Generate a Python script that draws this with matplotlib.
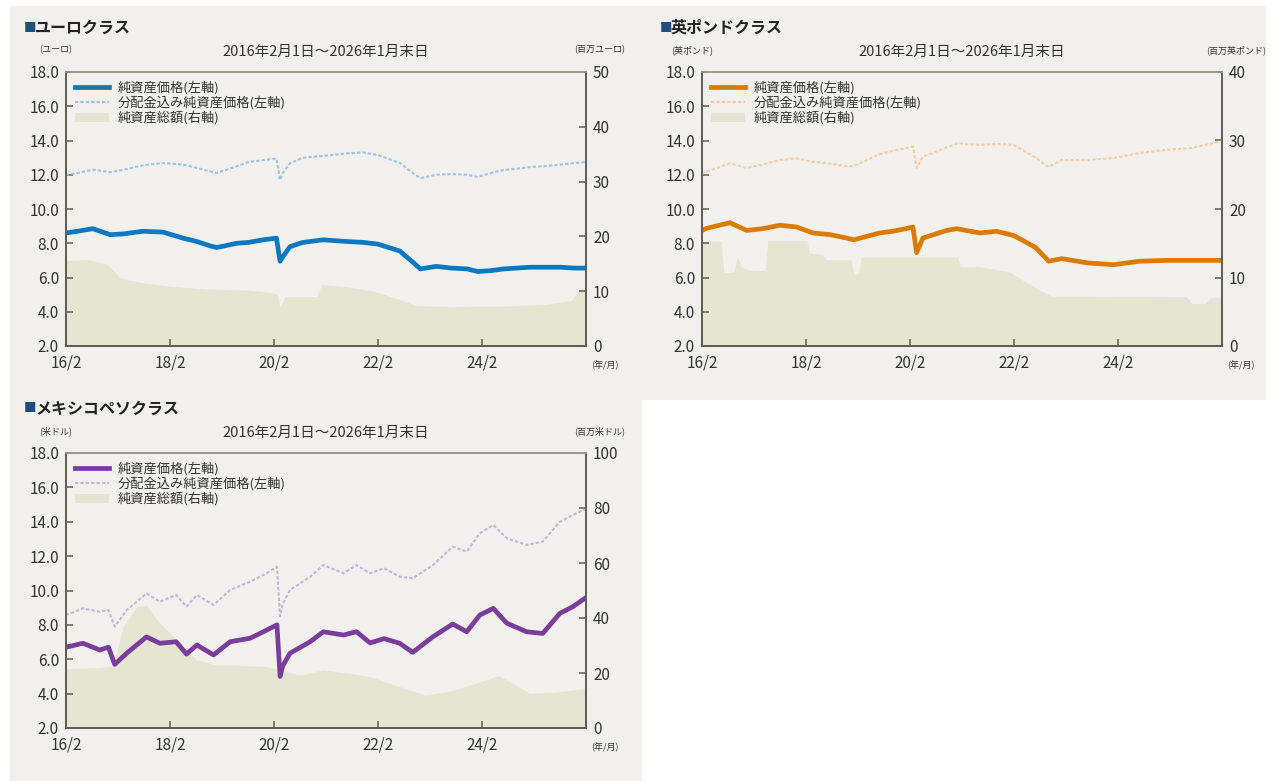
import matplotlib
matplotlib.use("Agg")
import matplotlib.pyplot as plt
from matplotlib.patches import Patch, Polygon
from matplotlib.lines import Line2D

plt.rcParams['font.family'] = ['Noto Sans CJK JP', 'DejaVu Sans']

W, H = 1276, 781

# ---------------- data ----------------
x_ticks = [2016.083, 2018.083, 2020.083, 2022.083, 2024.083]
x_labels = ["16/2", "18/2", "20/2", "22/2", "24/2"]
left_ticks = [2.0, 4.0, 6.0, 8.0, 10.0, 12.0, 14.0, 16.0, 18.0]
left_labels = ["2.0", "4.0", "6.0", "8.0", "10.0", "12.0", "14.0", "16.0", "18.0"]
period_text = "2016年2月1日～2026年1月末日"
legend_labels = ["純資産価格(左軸)", "分配金込み純資産価格(左軸)", "純資産総額(右軸)"]

# Euro class
eur_t = [2016.08, 2016.3, 2016.6, 2016.93, 2017.2, 2017.56, 2017.95, 2018.33, 2018.6,
         2018.85, 2018.98, 2019.37, 2019.6, 2019.87, 2020.13, 2020.2, 2020.25, 2020.39,
         2020.64, 2021.03, 2021.49, 2021.8, 2022.08, 2022.5, 2022.75, 2022.9, 2023.2,
         2023.5, 2023.8, 2024.0, 2024.25, 2024.5, 2024.75, 2025.0, 2025.3, 2025.6, 2025.85, 2026.08]
eur_nav = [8.6, 8.7, 8.85, 8.5, 8.55, 8.7, 8.65, 8.3, 8.1,
           7.85, 7.75, 8.0, 8.05, 8.2, 8.3, 6.95, 7.2, 7.8,
           8.05, 8.2, 8.1, 8.05, 7.95, 7.55, 6.9, 6.5, 6.65,
           6.55, 6.5, 6.35, 6.4, 6.5, 6.55, 6.6, 6.6, 6.6, 6.55, 6.55]
eur_dist = [11.98, 12.1, 12.3, 12.15, 12.3, 12.55, 12.68, 12.6, 12.4,
            12.2, 12.1, 12.5, 12.75, 12.85, 12.95, 11.7, 12.1, 12.67,
            13.0, 13.1, 13.25, 13.3, 13.15, 12.7, 12.1, 11.8, 12.0,
            12.04, 12.0, 11.87, 12.1, 12.28, 12.35, 12.45, 12.5, 12.6, 12.68, 12.75]
eur_aum_t = [2016.08, 2016.5, 2016.85, 2016.95, 2017.1, 2017.3, 2017.6, 2018.2, 2018.8,
             2019.6, 2020.0, 2020.15, 2020.2, 2020.3, 2020.9, 2021.0, 2021.5, 2022.0,
             2022.5, 2022.8, 2023.5, 2024.5, 2025.3, 2025.8, 2025.95, 2026.08]
eur_aum = [15.6, 15.8, 15.0, 14.2, 12.6, 12.0, 11.5, 10.8, 10.4,
           10.2, 9.8, 9.5, 7.0, 9.0, 9.0, 11.2, 10.8, 10.0,
           8.5, 7.4, 7.2, 7.3, 7.6, 8.3, 10.3, 10.6]

# GBP class
gbp_t = [2016.08, 2016.17, 2016.62, 2016.94, 2017.25, 2017.58, 2017.9, 2018.22, 2018.55,
         2018.87, 2019.0, 2019.5, 2019.75, 2020.0, 2020.14, 2020.21, 2020.33, 2020.79,
         2020.98, 2021.43, 2021.75, 2022.08, 2022.5, 2022.75, 2023.0, 2023.5, 2024.0,
         2024.5, 2025.0, 2025.5, 2026.08]
gbp_nav = [8.75, 8.87, 9.2, 8.75, 8.85, 9.05, 8.95, 8.6, 8.5,
           8.3, 8.2, 8.6, 8.7, 8.85, 8.95, 7.45, 8.3, 8.75,
           8.85, 8.6, 8.7, 8.45, 7.75, 6.95, 7.1, 6.85, 6.75,
           6.95, 7.0, 7.0, 7.0]
gbp_dist = [12.05, 12.18, 12.67, 12.4, 12.6, 12.86, 12.96, 12.76, 12.65,
            12.5, 12.5, 13.2, 13.4, 13.55, 13.64, 12.4, 13.05, 13.6,
            13.83, 13.74, 13.8, 13.74, 13.0, 12.45, 12.86, 12.86, 12.98,
            13.27, 13.45, 13.56, 13.97]
gbp_aum_t = [2016.08, 2016.45, 2016.5, 2016.7, 2016.76, 2016.85, 2017.0, 2017.3, 2017.35,
             2018.1, 2018.15, 2018.4, 2018.45, 2018.95, 2019.0, 2019.1, 2019.15, 2020.0,
             2021.0, 2021.05, 2021.4, 2022.0, 2022.4, 2022.8, 2025.4, 2025.5, 2025.75, 2025.85, 2026.08]
gbp_aum = [15.3, 15.3, 10.7, 10.8, 13.0, 11.5, 11.1, 11.0, 15.4,
           15.4, 13.6, 13.4, 12.6, 12.6, 10.4, 10.6, 13.0, 13.0,
           13.0, 11.6, 11.6, 10.8, 8.9, 7.3, 7.2, 6.2, 6.2, 7.0, 7.2]

# Mexican peso class
mxn_t = [2016.08, 2016.41, 2016.73, 2016.9, 2017.02, 2017.25, 2017.63, 2017.89, 2018.2,
         2018.4, 2018.6, 2018.92, 2019.24, 2019.62, 2019.88, 2020.14, 2020.2, 2020.25,
         2020.39, 2020.78, 2021.03, 2021.42, 2021.67, 2021.93, 2022.2, 2022.5, 2022.75,
         2023.14, 2023.52, 2023.79, 2024.04, 2024.3, 2024.56, 2024.94, 2025.25, 2025.58,
         2025.83, 2026.06]
mxn_nav = [6.7, 6.93, 6.54, 6.7, 5.7, 6.35, 7.3, 6.93, 7.02,
           6.3, 6.83, 6.25, 7.02, 7.22, 7.6, 8.0, 5.0, 5.6,
           6.35, 7.02, 7.6, 7.41, 7.6, 6.95, 7.2, 6.93, 6.4,
           7.31, 8.05, 7.6, 8.57, 8.96, 8.1, 7.6, 7.5, 8.67,
           9.06, 9.54]
mxn_dist = [8.57, 8.96, 8.77, 8.86, 7.9, 8.86, 9.83, 9.35, 9.74,
            9.06, 9.74, 9.16, 10.03, 10.51, 10.9, 11.38, 8.5, 9.2,
            10.03, 10.8, 11.48, 11.0, 11.48, 11.0, 11.3, 10.8, 10.71,
            11.48, 12.55, 12.26, 13.33, 13.81, 13.04, 12.65, 12.84, 14.0,
            14.39, 14.72]
mxn_aum_t = [2016.08, 2016.73, 2017.0, 2017.18, 2017.44, 2017.63, 2017.83, 2018.02, 2018.34,
             2018.6, 2018.98, 2019.37, 2019.94, 2020.2, 2020.58, 2021.03, 2021.54, 2021.93,
             2022.5, 2023.0, 2023.5, 2024.0, 2024.4, 2024.7, 2025.0, 2025.5, 2026.08]
mxn_aum = [21.5, 22.0, 22.5, 36.8, 44.1, 44.7, 39.3, 35.6, 29.6,
           24.7, 22.9, 22.9, 22.3, 21.1, 19.3, 21.1, 19.9, 18.7,
           15.0, 12.0, 13.5, 16.5, 19.0, 16.0, 12.6, 13.0, 14.4]

panels = [
    dict(title="ユーロクラス", lunit="(ユーロ)", runit="(百万ユーロ)",
         t=eur_t, nav=eur_nav, dist=eur_dist, at=eur_aum_t, aum=eur_aum,
         rmax=50, rticks=[0, 10, 20, 30, 40, 50],
         c1="#0b78c2", c2="#9ec4e8", box=(66, 72, 586, 346)),
    dict(title="英ポンドクラス", lunit="(英ポンド)", runit="(百万英ポンド)",
         t=gbp_t, nav=gbp_nav, dist=gbp_dist, at=gbp_aum_t, aum=gbp_aum,
         rmax=40, rticks=[0, 10, 20, 30, 40],
         c1="#dc7a06", c2="#f4cda6", box=(702, 72, 1222, 346)),
    dict(title="メキシコペソクラス", lunit="(米ドル)", runit="(百万米ドル)",
         t=mxn_t, nav=mxn_nav, dist=mxn_dist, at=mxn_aum_t, aum=mxn_aum,
         rmax=100, rticks=[0, 20, 40, 60, 80, 100],
         c1="#7a3d9c", c2="#c7b4dd", box=(66, 453, 586, 728)),
]

BG = "#f2f0ec"
AREA = "#e4e6d2"
SPINE = "#5e5e52"
TXT = "#333333"

fig = plt.figure(figsize=(W / 100, H / 100), dpi=100)
fig.patch.set_facecolor("white")


def fx(px):
    return px / W


def fy(py):
    return 1 - py / H


# gray background areas
bgpoly = Polygon([(fx(10), fy(6)), (fx(1266), fy(6)), (fx(1266), fy(400)),
                  (fx(642), fy(400)), (fx(642), fy(781)), (fx(10), fy(781))],
                 closed=True, transform=fig.transFigure, facecolor=BG, edgecolor="none",
                 zorder=-10)
fig.patches.append(bgpoly)

for p in panels:
    l, t, r, b = p["box"]
    ax = fig.add_axes([fx(l), fy(b), fx(r) - fx(l), fy(t) - fy(b)])
    ax2 = ax.twinx()
    ax2.set_facecolor("white")
    ax2.set_zorder(1)
    ax.set_zorder(2)
    ax.patch.set_visible(False)

    ax2.fill_between(p["at"], p["aum"], 0, color=AREA, lw=0)
    ax2.set_ylim(0, p["rmax"])
    ax2.set_yticks(p["rticks"])
    ax2.set_yticklabels([str(v) for v in p["rticks"]])

    ax.plot(p["t"], p["dist"], color=p["c2"], lw=1.5, ls=(0, (1.6, 1.0)))
    ax.plot(p["t"], p["nav"], color=p["c1"], lw=3.4, solid_joinstyle="round")
    ax.set_xlim(2016.083, 2026.083)
    ax.set_ylim(2.0, 18.0)
    ax.set_yticks(left_ticks)
    ax.set_yticklabels(left_labels)
    ax.set_xticks(x_ticks)
    ax.set_xticklabels(x_labels)

    for a in (ax, ax2):
        for s in a.spines.values():
            s.set_color(SPINE)
            s.set_linewidth(1.3)
        a.spines["top"].set_color("#9a9a90")
        a.tick_params(direction="in", length=5, width=1.1, color=SPINE,
                      labelsize=11, labelcolor=TXT)
    ax.tick_params(axis="x", pad=6)
    ax.tick_params(axis="y", pad=5)
    ax2.tick_params(axis="y", pad=5)

    handles = [Line2D([], [], color=p["c1"], lw=3.4),
               Line2D([], [], color=p["c2"], lw=1.5, ls=(0, (1.6, 1.0))),
               Patch(facecolor=AREA, edgecolor="none")]
    leg = ax.legend(handles, legend_labels, loc="upper left", bbox_to_anchor=(0.0, 1.0),
                    frameon=False, fontsize=9.5, handlelength=2.6, handletextpad=0.7,
                    labelspacing=0.1, borderpad=0.35, borderaxespad=0.3)
    for tx in leg.get_texts():
        tx.set_color(TXT)

    # titles and units
    fig.text(fx(l - 42), fy(t - 44), "■", color="#1c4f7c", fontsize=9,
             ha="left", va="center")
    fig.text(fx(l - 31), fy(t - 44), p["title"], color="#222222", fontsize=11.5,
             fontweight="bold", ha="left", va="center")
    fig.text(fx((l + r) / 2), fy(t - 20), period_text, color=TXT, fontsize=10.5,
             ha="center", va="center")
    fig.text(fx(l - 10), fy(t - 22), p["lunit"], color=TXT, fontsize=6.5,
             ha="center", va="center")
    fig.text(fx(r + 14), fy(t - 22), p["runit"], color=TXT, fontsize=6.5,
             ha="center", va="center")
    fig.text(fx(r + 19), fy(b + 19), "(年/月)", color=TXT, fontsize=6.5,
             ha="center", va="center")

fig.savefig("out.png", dpi=100, facecolor=fig.get_facecolor())
